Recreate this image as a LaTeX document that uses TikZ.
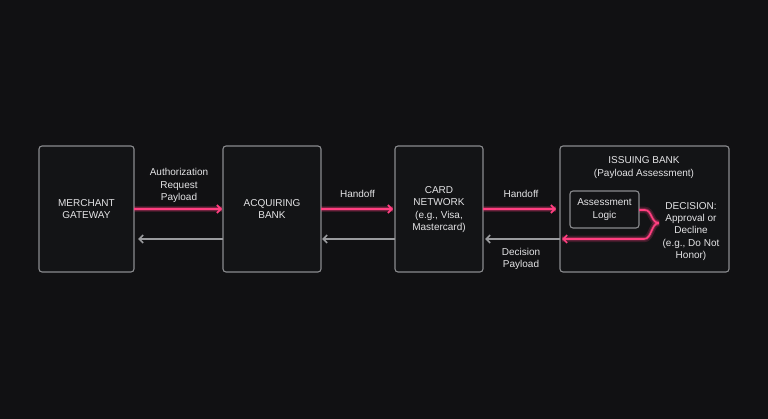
\documentclass[tikz,border=0pt]{standalone}
\usepackage{fontspec}
\setmainfont{Liberation Sans}
\usetikzlibrary{arrows.meta}
\definecolor{bg}{HTML}{111113}
\definecolor{boxline}{HTML}{8A8B8E}
\definecolor{boxfill}{HTML}{131416}
\definecolor{pinkc}{HTML}{FF3F80}
\definecolor{grayc}{HTML}{9A9B9E}
\definecolor{txt}{HTML}{E4E4E6}
\tikzset{
  blk/.style={draw=boxline, line width=1.1pt, fill=boxfill, rounded corners=3pt},
  lbl/.style={text=txt, font=\fontsize{10}{12.4}\selectfont, align=center, inner sep=0pt},
  glowarrow/.style={draw=pinkc, line width=1.6pt, -{Straight Barb[length=4pt,width=8pt,line width=1.6pt]},
     preaction={draw=pinkc, line width=6.5pt, opacity=0.18, -{}},
     preaction={draw=pinkc, line width=3.5pt, opacity=0.28, -{}}},
  glowline/.style={draw=pinkc, line width=1.6pt,
     preaction={draw=pinkc, line width=6.5pt, opacity=0.18},
     preaction={draw=pinkc, line width=3.5pt, opacity=0.28}},
  backarrow/.style={draw=grayc, line width=1.6pt, -{Straight Barb[length=4pt,width=8pt,line width=1.6pt]}}
}
\begin{document}
\begin{tikzpicture}[x=1pt,y=-1pt]
\useasboundingbox[fill=bg] (0,0) rectangle (768,419);
% boxes
\path[blk] (39,146) rectangle (134,272);
\path[blk] (223,146) rectangle (321,272);
\path[blk] (395,146) rectangle (483,272);
\path[blk] (560,146) rectangle (729,272);
\path[blk] (570,191) rectangle (639,228);
% anchors
\coordinate (m1) at (134,209); \coordinate (a1) at (223,209);
\coordinate (a2) at (321,209); \coordinate (c1) at (395,209);
\coordinate (c2) at (483,209); \coordinate (i1) at (560,209);
\coordinate (m2) at (134,239); \coordinate (a3) at (223,239);
\coordinate (a4) at (321,239); \coordinate (c3) at (395,239);
\coordinate (c4) at (483,239); \coordinate (i2) at (560,239);
\coordinate (al) at (639,210);
\coordinate (tip) at (659,223);
\coordinate (ret) at (562,239);
% pink forward arrows
\draw[glowarrow] (m1) -- ([xshift=-1pt]a1);
\draw[glowarrow] (a2) -- ([xshift=-2pt]c1);
\draw[glowarrow] (c2) -- ([xshift=-4pt]i1);
% gray back arrows
\draw[backarrow] (a3) -- ([xshift=4pt]m2);
\draw[backarrow] (c3) -- ([xshift=1pt]a4);
\draw[backarrow] (i2) -- ([xshift=2pt]c4);
% brace inside issuing bank
\draw[glowline] (al) -- (645,210) .. controls (652,210) and (651,223) .. (tip);
\draw[glowarrow] (tip) .. controls (651,223) and (652,239) .. (644,239) -- (ret);
% labels
\node[lbl] (tm) at (86.5,209) {MERCHANT\\GATEWAY};
\node[lbl] (ta) at (272,209) {ACQUIRING\\BANK};
\node[lbl] (tc) at (439,209.5) {CARD\\NETWORK\\(e.g., Visa,\\Mastercard)};
\node[lbl] (ti) at (644,167.5) {ISSUING BANK\\(Payload Assessment)};
\node[lbl] (tl) at (604.5,209.5) {Assessment\\Logic};
\node[lbl] (td) at (691,231.5) {DECISION:\\Approval or\\Decline\\(e.g., Do Not\\Honor)};
\node[lbl] (t1) at (179,185.5) {Authorization\\Request\\Payload};
\node[lbl] (t2) at (357.5,193.5) {Handoff};
\node[lbl] (t3) at (521,193.5) {Handoff};
\node[lbl] (t4) at (521,259) {Decision\\Payload};
\end{tikzpicture}
\end{document}
